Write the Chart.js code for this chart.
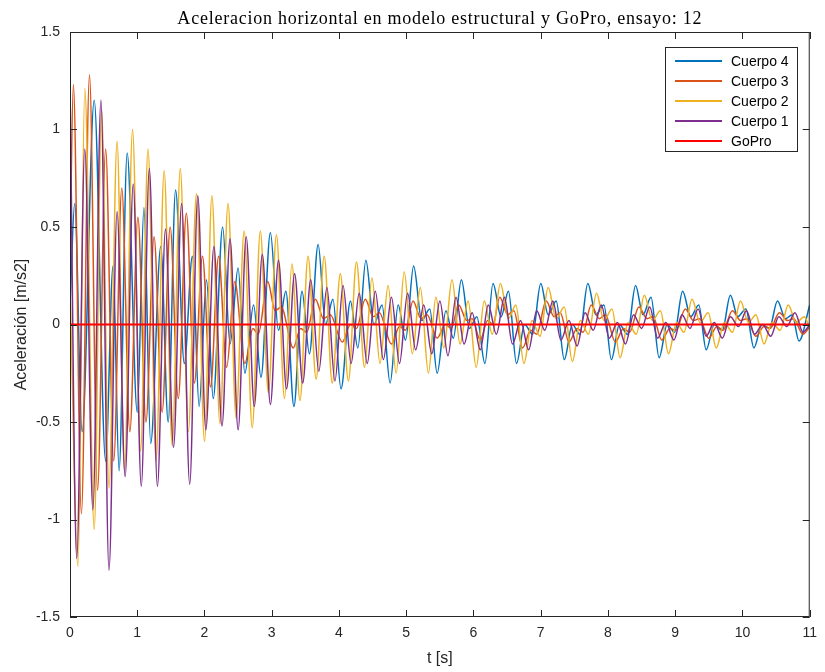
<!DOCTYPE html>
<html>
<head>
<meta charset="utf-8">
<title>Aceleracion horizontal - ensayo 12</title>
<script src="https://cdn.jsdelivr.net/npm/chart.js@4.4.1/dist/chart.umd.min.js"></script>
<style>
  html, body { margin: 0; padding: 0; background: #fff; }
  #wrap { width: 825px; height: 672px; }
</style>
</head>
<body>
<div id="wrap"><canvas id="chart" width="825" height="672"></canvas></div>
<script>
// values (peaks and troughs of each record), t in s, a in m/s2
const c4T = [0.00, 0.07, 0.18, 0.36, 0.53, 0.64, 0.73, 0.85, 1.00, 1.10, 1.20, 1.35, 1.46, 1.57, 1.70, 1.82, 1.92, 2.03, 2.13, 2.27,
             2.38, 2.50, 2.60, 2.73, 2.84, 2.98, 3.10, 3.21, 3.33, 3.45, 3.56, 3.69, 3.80, 3.91, 4.03, 4.17, 4.28, 4.40, 4.52, 4.64,
             4.76, 4.88, 4.99, 5.11, 5.23, 5.35, 5.46, 5.59, 5.70, 5.82, 5.94, 6.05, 6.17, 6.29, 6.41, 6.52, 6.64, 6.76, 6.88, 7.00,
             7.11, 7.23, 7.35, 7.47, 7.58, 7.70, 7.82, 7.94, 8.05, 8.17, 8.29, 8.41, 8.52, 8.64, 8.76, 8.88, 8.99, 9.11, 9.23, 9.35,
             9.46, 9.58, 9.70, 9.82, 9.93, 10.05, 10.17, 10.29, 10.40, 10.52, 10.64, 10.74, 10.84, 11.00];
const c4V = [0.10, 0.62, -0.55, 1.15, -0.70, 0.30, -0.75, 0.88, -0.45, 0.60, -0.61, 0.40, -0.50, 0.69, -0.20, 0.35, -0.42, 0.23, -0.38, 0.50,
             -0.10, 0.29, -0.25, 0.10, -0.27, 0.47, -0.03, 0.17, -0.42, 0.17, -0.15, 0.41, 0.00, 0.13, -0.33, 0.12, -0.12, 0.33, 0.00, 0.10,
             -0.30, 0.10, -0.08, 0.30, 0.02, 0.08, -0.25, 0.07, -0.07, 0.23, -0.02, 0.04, -0.20, 0.21, 0.04, 0.17, -0.20, 0.00, -0.05, 0.21,
             0.05, 0.12, -0.18, 0.00, -0.05, 0.21, 0.05, 0.10, -0.18, 0.00, -0.05, 0.20, 0.05, 0.14, -0.17, 0.00, -0.04, 0.17, 0.04, 0.10,
             -0.13, 0.00, -0.03, 0.15, 0.04, 0.08, -0.12, 0.00, -0.02, 0.12, 0.03, 0.05, -0.085, 0.10];

const c3T = [0.00, 0.05, 0.17, 0.29, 0.41, 0.53, 0.65, 0.77, 0.89, 1.01, 1.13, 1.25, 1.37, 1.49, 1.61, 1.73, 1.85, 1.97, 2.09, 2.21,
             2.33, 2.45, 2.60, 2.72, 2.80, 2.94, 3.05, 3.14, 3.32, 3.43, 3.52, 3.65, 3.77, 3.87, 4.05, 4.17, 4.26, 4.39, 4.51, 4.60,
             4.78, 4.90, 4.99, 5.10, 5.22, 5.31, 5.46, 5.58, 5.67, 5.78, 5.90, 5.98, 6.10, 6.21, 6.29, 6.39, 6.51, 6.60, 6.73, 6.85,
             6.94, 7.08, 7.20, 7.29, 7.42, 7.54, 7.63, 7.75, 7.87, 7.96, 8.11, 8.23, 8.32, 8.46, 8.58, 8.67, 8.80, 8.92, 9.01, 9.15,
             9.27, 9.36, 9.50, 9.62, 9.71, 9.85, 9.97, 10.06, 10.20, 10.32, 10.41, 10.55, 10.67, 10.76, 10.90, 11.00];
const c3V = [0.36, 1.23, -0.97, 1.28, -0.85, 0.90, -0.70, 0.70, -0.55, 0.55, -0.50, 0.45, -0.45, 0.50, -0.38, 0.57, -0.30, 0.35, -0.32, 0.35,
             -0.22, 0.22, -0.20, -0.02, -0.05, 0.22, 0.07, 0.09, -0.12, -0.02, -0.04, 0.13, 0.03, 0.05, -0.09, 0.00, -0.02, 0.13, 0.04, 0.06,
             -0.10, -0.01, -0.03, 0.12, 0.03, 0.05, -0.07, 0.00, -0.02, 0.10, 0.02, 0.03, -0.08, 0.02, 0.00, 0.14, 0.05, 0.07, -0.12, -0.03,
             -0.05, 0.12, 0.04, 0.06, -0.09, -0.02, -0.04, 0.10, 0.03, 0.05, -0.09, -0.02, -0.04, 0.09, 0.03, 0.04, -0.08, -0.02, -0.03, 0.08,
             0.02, 0.03, -0.07, -0.01, -0.03, 0.07, 0.02, 0.03, -0.06, -0.01, -0.02, 0.06, 0.02, 0.03, -0.05, -0.01];

const c2T = [0.00, 0.12, 0.22, 0.36, 0.47, 0.58, 0.70, 0.81, 0.93, 1.05, 1.16, 1.28, 1.40, 1.52, 1.64, 1.76, 1.88, 2.00, 2.11, 2.23,
             2.35, 2.47, 2.59, 2.71, 2.83, 2.95, 3.07, 3.19, 3.30, 3.42, 3.54, 3.66, 3.78, 3.90, 4.02, 4.14, 4.26, 4.38, 4.49, 4.61,
             4.73, 4.85, 4.97, 5.09, 5.21, 5.33, 5.44, 5.56, 5.68, 5.80, 5.92, 6.04, 6.16, 6.28, 6.40, 6.52, 6.63, 6.75, 6.87, 6.99,
             7.11, 7.23, 7.35, 7.47, 7.59, 7.71, 7.83, 7.94, 8.06, 8.18, 8.30, 8.42, 8.54, 8.66, 8.78, 8.90, 9.02, 9.13, 9.25, 9.37,
             9.49, 9.61, 9.73, 9.85, 9.97, 10.09, 10.20, 10.32, 10.44, 10.56, 10.68, 10.80, 10.92, 11.00];
const c2V = [0.20, -1.24, 1.21, -1.05, 1.10, -0.84, 0.94, -0.75, 1.00, -0.65, 0.90, -0.70, 0.79, -0.62, 0.80, -0.55, 0.67, -0.60, 0.66, -0.51,
             0.62, -0.48, 0.48, -0.53, 0.48, -0.35, 0.46, -0.38, 0.31, -0.39, 0.35, -0.28, 0.35, -0.30, 0.26, -0.29, 0.32, -0.22, 0.24, -0.20,
             0.20, -0.25, 0.27, -0.15, 0.19, -0.25, 0.14, -0.12, 0.23, -0.10, 0.12, -0.22, 0.12, -0.05, 0.21, 0.03, 0.10, -0.20, 0.02, -0.06,
             0.19, 0.03, 0.09, -0.19, 0.02, -0.05, 0.16, 0.02, 0.08, -0.17, 0.01, -0.05, 0.15, 0.02, 0.07, -0.15, 0.01, -0.04, 0.13, 0.01,
             0.06, -0.12, 0.01, -0.04, 0.12, 0.01, 0.05, -0.10, 0.01, -0.03, 0.10, 0.01, 0.04, -0.02];

const c1T = [0.00, 0.10, 0.22, 0.34, 0.46, 0.58, 0.70, 0.82, 0.94, 1.06, 1.18, 1.30, 1.42, 1.54, 1.66, 1.78, 1.90, 2.02, 2.14, 2.26,
             2.38, 2.50, 2.62, 2.74, 2.86, 2.98, 3.10, 3.22, 3.34, 3.46, 3.58, 3.70, 3.82, 3.94, 4.06, 4.18, 4.30, 4.42, 4.54, 4.66,
             4.78, 4.90, 5.02, 5.14, 5.26, 5.38, 5.50, 5.62, 5.74, 5.86, 5.98, 6.10, 6.22, 6.34, 6.46, 6.58, 6.70, 6.82, 6.94, 7.06,
             7.18, 7.30, 7.42, 7.54, 7.66, 7.78, 7.90, 8.02, 8.14, 8.26, 8.38, 8.50, 8.62, 8.74, 8.86, 8.98, 9.10, 9.22, 9.34, 9.46,
             9.58, 9.70, 9.82, 9.94, 10.06, 10.18, 10.30, 10.42, 10.54, 10.66, 10.78, 10.90, 11.00];
const c1V = [1.23, -1.20, 0.90, -0.95, 1.15, -1.26, 0.58, -0.78, 0.72, -0.83, 0.80, -0.83, 0.49, -0.63, 0.62, -0.82, 0.66, -0.54, 0.40, -0.52,
             0.44, -0.54, 0.45, -0.42, 0.36, -0.41, 0.33, -0.33, 0.26, -0.30, 0.23, -0.24, 0.19, -0.29, 0.20, -0.20, 0.16, -0.20, 0.17, -0.18,
             0.14, -0.20, 0.16, -0.13, 0.10, -0.15, 0.12, -0.16, 0.14, -0.10, 0.06, -0.13, 0.10, -0.05, 0.14, -0.10, 0.02, -0.13, 0.07, -0.03,
             0.12, -0.08, 0.02, -0.11, 0.06, -0.03, 0.10, -0.07, 0.01, -0.10, 0.05, -0.02, 0.09, -0.07, 0.01, -0.08, 0.05, -0.02, 0.08, -0.06,
             0.01, -0.07, 0.04, -0.01, 0.07, -0.05, 0.00, -0.06, 0.04, -0.01, 0.06, -0.04, 0.00];

const goproT = [0, 11];
const goproV = [0, 0];

const seriesNames = ['Cuerpo 4', 'Cuerpo 3', 'Cuerpo 2', 'Cuerpo 1', 'GoPro'];
const seriesColors = ['#0072BD', '#D95319', '#EDB120', '#7E2F8E', '#FF0000'];
const xTicks = [0, 1, 2, 3, 4, 5, 6, 7, 8, 9, 10, 11];
const yTicks = [-1.5, -1, -0.5, 0, 0.5, 1, 1.5];
const titleText = 'Aceleracion horizontal en modelo estructural y GoPro, ensayo: 12';

const axisColor = '#262626';

function toPoints(ts, vs) {
    return ts.map((t, i) => ({ x: t, y: vs[i] }));
}

const allT = [c4T, c3T, c2T, c1T, goproT];
const allV = [c4V, c3V, c2V, c1V, goproV];

// first series is drawn first (underneath), GoPro ends on top
const datasets = seriesNames.map((name, i) => ({
    label: name,
    data: toPoints(allT[i], allV[i]),
    borderColor: seriesColors[i],
    borderWidth: i === 4 ? 2 : 1.5,
    pointRadius: 0,
    fill: false,
    cubicInterpolationMode: 'monotone',
    order: 4 - i
}));

// box, inward ticks, title and legend drawn over the plot
const figurePlugin = {
    id: 'figure',
    afterDraw(chart) {
        const c = chart.ctx;
        const a = chart.chartArea;
        const xs = chart.scales.x, ys = chart.scales.y;
        c.save();
        c.strokeStyle = axisColor;
        c.lineWidth = 1;
        c.strokeRect(a.left + 0.5, a.top + 0.5, a.right - a.left - 1, a.bottom - a.top - 1);
        c.beginPath();
        xTicks.forEach(v => {
            const px = Math.round(xs.getPixelForValue(v)) + 0.5;
            c.moveTo(px, a.bottom); c.lineTo(px, a.bottom - 7);
            c.moveTo(px, a.top); c.lineTo(px, a.top + 7);
        });
        yTicks.forEach(v => {
            const py = Math.round(ys.getPixelForValue(v)) + 0.5;
            c.moveTo(a.left, py); c.lineTo(a.left + 7, py);
            c.moveTo(a.right, py); c.lineTo(a.right - 7, py);
        });
        c.stroke();

        // title
        c.fillStyle = '#000';
        c.font = '18px "Liberation Serif", "Times New Roman", serif';
        c.textAlign = 'center';
        c.textBaseline = 'alphabetic';
        const w = c.measureText(titleText).width;
        let sp = (524 - w) / (titleText.length - 1);
        sp = Math.max(-1, Math.min(1.5, sp));
        if ('letterSpacing' in c) c.letterSpacing = sp.toFixed(2) + 'px';
        c.fillText(titleText, (a.left + a.right) / 2, 24);
        if ('letterSpacing' in c) c.letterSpacing = '0px';

        // legend
        const lx = 665, ly = 47, lw = 132, lh = 104;
        c.fillStyle = '#fff';
        c.fillRect(lx, ly, lw, lh);
        c.strokeStyle = axisColor;
        c.lineWidth = 1;
        c.strokeRect(lx + 0.5, ly + 0.5, lw, lh);
        c.font = '14px "Liberation Sans", Arial, sans-serif';
        c.textAlign = 'left';
        c.textBaseline = 'middle';
        seriesNames.forEach((name, i) => {
            const y = ly + 14 + i * 20;
            c.strokeStyle = seriesColors[i];
            c.lineWidth = 2;
            c.beginPath();
            c.moveTo(lx + 10, y);
            c.lineTo(lx + 57, y);
            c.stroke();
            c.fillStyle = '#000';
            c.fillText(name, lx + 66, y + 1);
        });
        c.restore();
    }
};

const tickFont = { family: '"Liberation Sans", Arial, sans-serif', size: 14 };

new Chart(document.getElementById('chart').getContext('2d'), {
    type: 'line',
    data: { datasets: datasets },
    options: {
        responsive: false,
        animation: false,
        devicePixelRatio: 1,
        layout: { padding: { top: 32, right: 12, left: 0, bottom: 0 } },
        plugins: {
            legend: { display: false },
            tooltip: { enabled: false },
            title: { display: false }
        },
        scales: {
            x: {
                type: 'linear',
                min: 0, max: 11,
                grid: { display: false, drawTicks: false },
                border: { display: false },
                ticks: {
                    stepSize: 1, padding: 8, color: axisColor, font: tickFont,
                    maxRotation: 0, autoSkip: false,
                    callback: v => String(v)
                },
                title: {
                    display: true, text: 't [s]', color: axisColor,
                    font: { family: tickFont.family, size: 16 },
                    padding: { top: 0, bottom: 4 }
                },
                afterFit: s => { s.height = 55; }
            },
            y: {
                type: 'linear',
                min: -1.5, max: 1.5,
                grid: { display: false, drawTicks: false },
                border: { display: false },
                ticks: {
                    stepSize: 0.5, padding: 10, color: axisColor, font: tickFont,
                    callback: v => String(v)
                },
                title: {
                    display: true, text: 'Aceleración [m/s2]', color: axisColor,
                    font: { family: tickFont.family, size: 16 },
                    padding: { top: 12, bottom: 0 }
                },
                afterFit: s => { s.width = 70; }
            }
        }
    },
    plugins: [figurePlugin]
});
</script>
</body>
</html>
